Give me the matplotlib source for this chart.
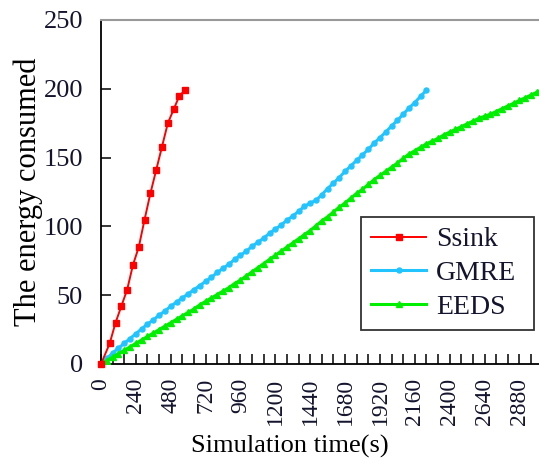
import matplotlib
matplotlib.use("Agg")
import matplotlib.pyplot as plt
from matplotlib.ticker import MultipleLocator

plt.rcParams['font.family'] = ['Liberation Serif', 'DejaVu Serif']
plt.rcParams['text.color'] = '#14142e'
plt.rcParams['xtick.labelcolor'] = '#14142e'
plt.rcParams['ytick.labelcolor'] = '#14142e'

# Ssink
ssink_t = [0, 60, 100, 140, 180, 220, 260, 300, 340, 380, 420, 460, 500, 540, 580]
ssink_e = [0, 15, 30, 42, 54, 72, 85, 105, 124, 141, 158, 175, 185, 195, 199]

# GMRE, sampled every 40 s
gmre_t = list(range(0, 2241, 40))
gmre_e = [0, 4, 8, 11.5, 15, 18.5, 22, 25.5, 29, 32, 35.5, 38.5, 42, 45, 48, 51,
          54, 57, 60, 63, 66.5, 69.5, 72.5, 76, 79, 82, 85.5, 88.5, 91.5, 95,
          98, 101, 104.5, 107.5, 111, 114.5, 117, 119, 123, 127.5, 131.5, 135.5,
          140, 144, 148, 152, 156, 160.5, 164.5, 168.5, 173, 177, 181.5, 186,
          190, 194.5, 199]

# EEDS, sampled every 40 s
eeds_t = list(range(0, 3041, 40))
eeds_e = [0, 2.5, 5, 7.5, 10, 12.5, 15, 17.5, 20, 22.5, 25, 27.5, 30, 32.5, 35,
          37.5, 40, 43, 45.5, 48, 50.5, 53, 55.5, 58.5, 61, 64, 67, 70, 73, 76,
          79, 82, 85, 88, 91, 94, 97, 100.5, 104, 107, 110.5, 114, 117, 120.5,
          124, 127, 130.5, 134, 137, 140, 143, 146, 149.5, 152.5, 155, 157.5,
          160, 162, 164, 166.5, 168.5, 170.5, 172.5, 174.5, 176.5, 178.5, 180,
          181.5, 183.5, 185.5, 187.5, 189.5, 191.5, 193.5, 195.5, 197.5, 199.5]

xticks = [0, 240, 480, 720, 960, 1200, 1440, 1680, 1920, 2160, 2400, 2640, 2880]

fig = plt.figure(figsize=(5.39, 4.68), dpi=100)
ax = fig.add_axes([101 / 539, 104 / 468, 438 / 539, 344 / 468])

ax.plot(ssink_t, ssink_e, color='#ff0000', lw=1.4, marker='s', ms=4.5,
        label='Ssink', clip_on=False, zorder=4)
ax.plot(gmre_t, gmre_e, color='#22c4ff', lw=2.2, marker='o', ms=3.6,
        label='GMRE', zorder=3)
ax.plot(eeds_t, eeds_e, color='#00ee00', lw=2.2, marker='^', ms=4.2,
        label='EEDS', zorder=3)

ax.set_xlim(0, 3015)
ax.set_ylim(0, 250)
ax.set_xticks(xticks)
ax.xaxis.set_minor_locator(MultipleLocator(80))
ax.set_yticks([0, 50, 100, 150, 200, 250])
ax.tick_params(axis='x', which='both', direction='in', length=7, width=1.1,
               labelsize=17, labelrotation=90, pad=10)
ax.tick_params(axis='y', direction='in', length=7.5, width=1.1,
               labelsize=19, pad=13)

ax.spines['right'].set_visible(False)
ax.spines['top'].set_color('#999999')
ax.spines['top'].set_linewidth(1.5)
ax.spines['left'].set_linewidth(1.3)
ax.spines['bottom'].set_linewidth(1.3)

ax.set_xlabel('Simulation time(s)', fontsize=19)
ax.xaxis.set_label_coords(0.43, -0.205)
ax.set_ylabel('The energy consumed', fontsize=22)
ax.yaxis.set_label_coords(-0.133, 0.5)

leg = ax.legend(loc='upper left', bbox_to_anchor=(0.594, 0.0, 0.395, 0.427),
                mode='expand', borderaxespad=0, fancybox=False, fontsize=20,
                handlelength=2.0, handletextpad=0.35, numpoints=1,
                borderpad=0.35, labelspacing=0.3)
leg.get_frame().set_edgecolor('black')
leg.get_frame().set_linewidth(1.3)

fig.savefig('out.png', dpi=100)
